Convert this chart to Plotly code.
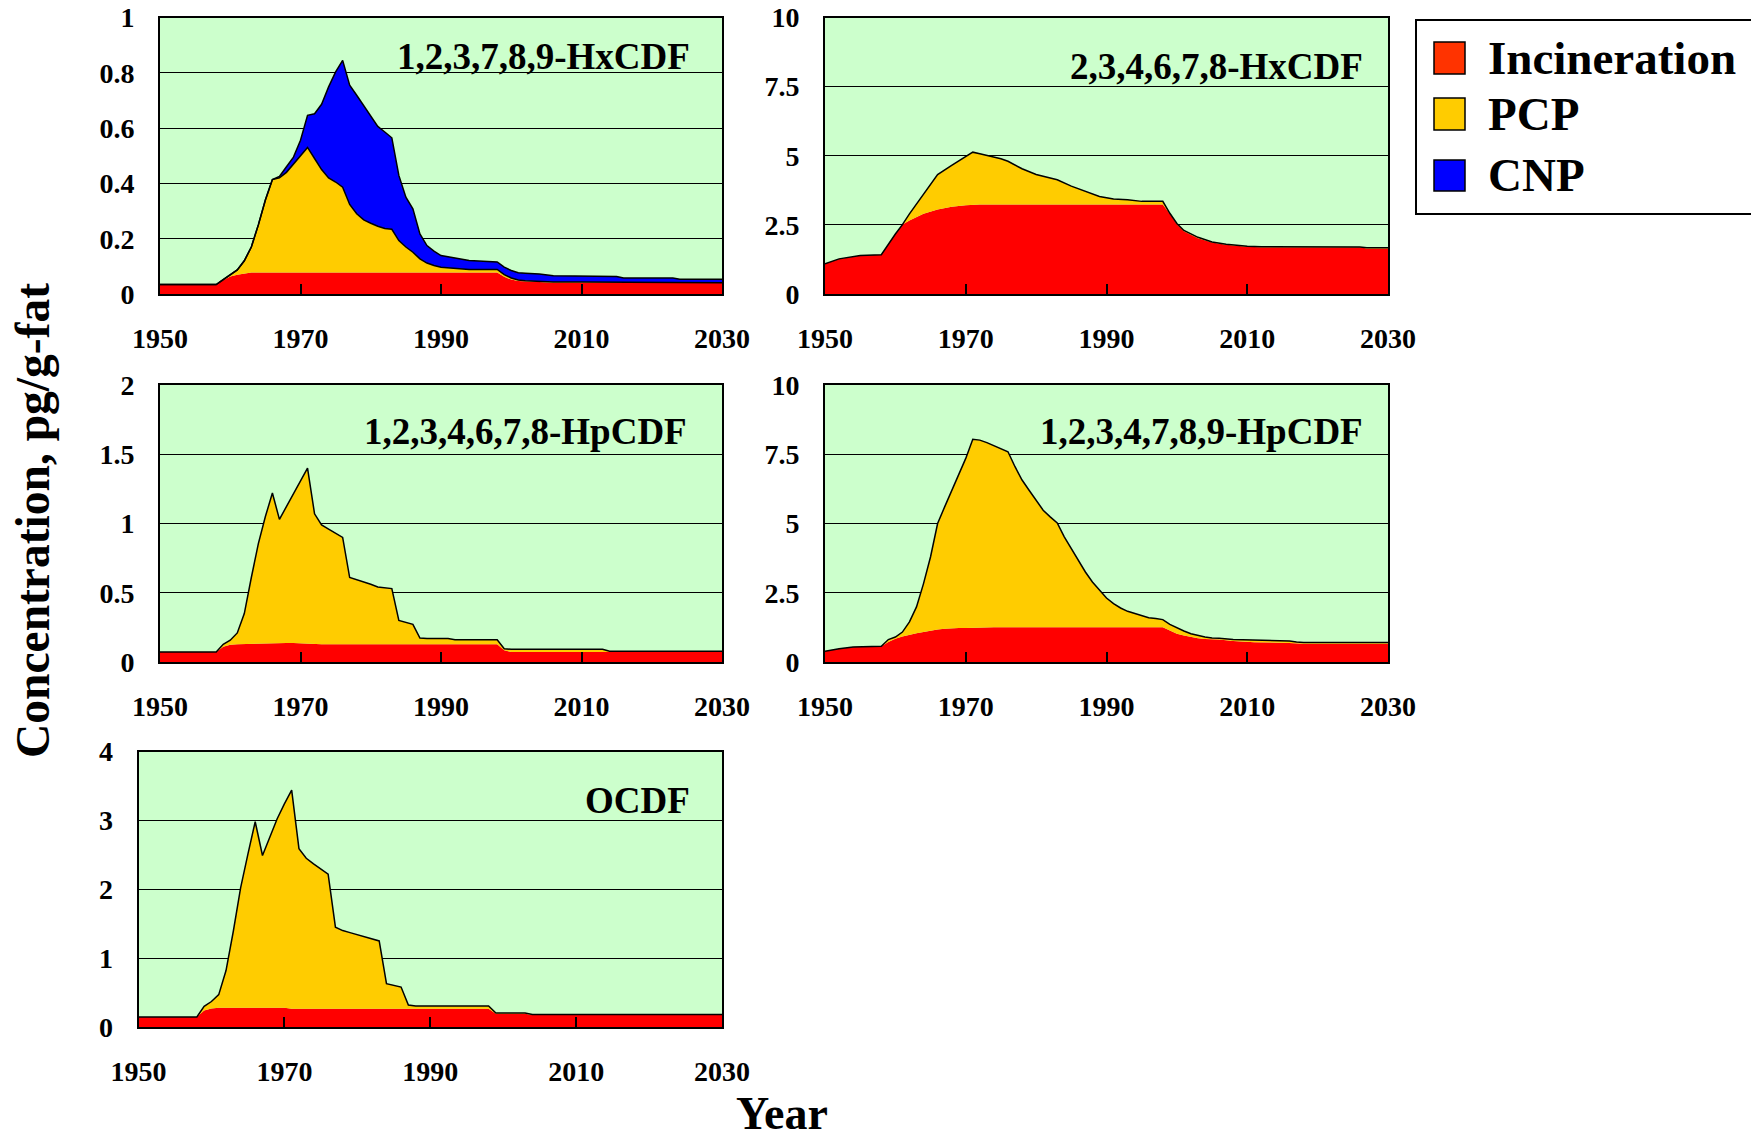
import plotly.graph_objects as go

# ---------------- DATA ----------------
series_names = ["Incineration", "PCP", "CNP"]
panel_titles = ["1,2,3,7,8,9-HxCDF", "2,3,4,6,7,8-HxCDF", "1,2,3,4,6,7,8-HpCDF",
                "1,2,3,4,7,8,9-HpCDF", "OCDF"]
x_tick_vals = [1950, 1970, 1990, 2010, 2030]
x_tick_text = ["1950", "1970", "1990", "2010", "2030"]

# Panel 1: 1,2,3,7,8,9-HxCDF
p1_years = [1950, 1958, 1959, 1960, 1961, 1962, 1963, 1964, 1965, 1966, 1967, 1968, 1969,
            1970, 1971, 1972, 1973, 1974, 1975, 1976, 1977, 1978, 1979, 1980, 1981, 1982,
            1983, 1984, 1985, 1986, 1987, 1988, 1989, 1990, 1992, 1994, 1998, 1999, 2000,
            2001, 2002, 2004, 2006, 2010, 2015, 2016, 2023, 2024, 2030]
p1_incineration = [0.034, 0.034, 0.05, 0.063, 0.07, 0.075, 0.078, 0.078, 0.078, 0.078, 0.078,
                   0.078, 0.078, 0.078, 0.078, 0.078, 0.078, 0.078, 0.078, 0.078, 0.078, 0.078,
                   0.078, 0.078, 0.078, 0.078, 0.078, 0.078, 0.078, 0.078, 0.078, 0.078, 0.078,
                   0.078, 0.078, 0.078, 0.078, 0.062, 0.052, 0.047, 0.045, 0.043, 0.041, 0.041,
                   0.041, 0.041, 0.041, 0.041, 0.041]
p1_pcp = [0, 0, 0.002, 0.007, 0.017, 0.045, 0.092, 0.172, 0.262, 0.336, 0.342, 0.362, 0.392,
          0.422, 0.452, 0.412, 0.372, 0.342, 0.327, 0.308, 0.246, 0.212, 0.19, 0.178, 0.167,
          0.159, 0.156, 0.115, 0.092, 0.073, 0.049, 0.034, 0.025, 0.019, 0.015, 0.011, 0.011,
          0.008, 0.006, 0.004, 0.003, 0.003, 0.002, 0.002, 0.002, 0, 0, 0, 0]
p1_cnp = [0, 0, 0, 0, 0, 0, 0, 0, 0, 0, 0.005, 0.02, 0.025, 0.056, 0.116, 0.162, 0.236, 0.329,
          0.398, 0.459, 0.431, 0.429, 0.414, 0.39, 0.361, 0.349, 0.331, 0.236, 0.18, 0.157,
          0.09, 0.063, 0.052, 0.042, 0.036, 0.032, 0.027, 0.027, 0.027, 0.026, 0.027, 0.026,
          0.023, 0.022, 0.02, 0.017, 0.017, 0.012, 0.012]
p1_y_ticks = [0, 0.2, 0.4, 0.6, 0.8, 1]
p1_y_text = ["0", "0.2", "0.4", "0.6", "0.8", "1"]

# Panel 2: 2,3,4,6,7,8-HxCDF
p2_years = [1950, 1952, 1955, 1958, 1960, 1961, 1962, 1964, 1966, 1968, 1970, 1971, 1972,
            1973, 1975, 1976, 1978, 1980, 1982, 1983, 1985, 1987, 1989, 1991, 1993, 1995,
            1998, 1999, 2000, 2001, 2003, 2005, 2007, 2010, 2012, 2026, 2027, 2030]
p2_incineration = [1.09, 1.27, 1.39, 1.42, 2.17, 2.51, 2.66, 2.9, 3.06, 3.16, 3.21, 3.23, 3.24,
                   3.24, 3.24, 3.24, 3.24, 3.24, 3.24, 3.24, 3.24, 3.24, 3.24, 3.24, 3.24, 3.24,
                   3.24, 2.9, 2.52, 2.27, 2.02, 1.86, 1.78, 1.71, 1.69, 1.69, 1.65, 1.65]
p2_pcp = [0, 0, 0, 0, 0, 0, 0.24, 0.72, 1.26, 1.49, 1.74, 1.9, 1.83, 1.77, 1.65, 1.56, 1.29,
          1.08, 0.96, 0.89, 0.66, 0.48, 0.29, 0.2, 0.17, 0.11, 0.11, 0.02, 0.03, 0.03, 0.03,
          0.02, 0.02, 0.02, 0.02, 0.01, 0.02, 0.02]
p2_y_ticks = [0, 2.5, 5, 7.5, 10]
p2_y_text = ["0", "2.5", "5", "7.5", "10"]

# Panel 3: 1,2,3,4,6,7,8-HpCDF
p3_years = [1950, 1958, 1959, 1960, 1961, 1962, 1963, 1964, 1965, 1966, 1967, 1968, 1969,
            1970, 1971, 1972, 1973, 1974, 1975, 1976, 1977, 1978, 1979, 1980, 1981, 1982,
            1983, 1984, 1985, 1986, 1987, 1988, 1991, 1992, 1998, 1999, 2000, 2013, 2014, 2030]
p3_incineration = [0.072, 0.072, 0.11, 0.125, 0.128, 0.13, 0.13, 0.132, 0.135, 0.137, 0.138,
                   0.138, 0.137, 0.135, 0.128, 0.128, 0.128, 0.128, 0.128, 0.128, 0.128, 0.128,
                   0.128, 0.128, 0.128, 0.128, 0.128, 0.128, 0.128, 0.128, 0.128, 0.128, 0.128,
                   0.128, 0.128, 0.084, 0.072, 0.072, 0.072, 0.072]
p3_pcp = [0, 0, 0.018, 0.032, 0.082, 0.22, 0.48, 0.723, 0.915, 1.083, 0.892, 0.982, 1.083,
          1.175, 1.272, 0.942, 0.862, 0.832, 0.802, 0.772, 0.482, 0.467, 0.45, 0.433, 0.414,
          0.409, 0.402, 0.172, 0.156, 0.144, 0.045, 0.041, 0.041, 0.033, 0.033, 0.012, 0.02,
          0.02, 0.005, 0.005]
p3_y_ticks = [0, 0.5, 1, 1.5, 2]
p3_y_text = ["0", "0.5", "1", "1.5", "2"]

# Panel 4: 1,2,3,4,7,8,9-HpCDF
p4_years = [1950, 1952, 1954, 1958, 1959, 1960, 1961, 1962, 1963, 1964, 1965, 1966, 1967,
            1968, 1969, 1970, 1971, 1972, 1973, 1974, 1975, 1976, 1977, 1978, 1979, 1980,
            1981, 1982, 1983, 1984, 1985, 1986, 1987, 1988, 1989, 1990, 1991, 1992, 1993,
            1994, 1995, 1996, 1997, 1998, 1999, 2000, 2001, 2002, 2003, 2004, 2005, 2006,
            2008, 2010, 2011, 2016, 2017, 2018, 2030]
p4_incineration = [0.39, 0.48, 0.54, 0.57, 0.72, 0.84, 0.92, 0.99, 1.04, 1.08, 1.13, 1.17, 1.2,
                   1.22, 1.225, 1.23, 1.24, 1.25, 1.25, 1.25, 1.25, 1.25, 1.25, 1.25, 1.25,
                   1.25, 1.25, 1.25, 1.25, 1.25, 1.25, 1.25, 1.25, 1.25, 1.25, 1.25, 1.25, 1.25,
                   1.25, 1.25, 1.25, 1.25, 1.25, 1.25, 1.14, 1.02, 0.96, 0.9, 0.86, 0.83, 0.82,
                   0.81, 0.76, 0.72, 0.71, 0.69, 0.68, 0.66, 0.66]
p4_pcp = [0, 0, 0, 0, 0.09, 0.06, 0.16, 0.46, 0.95, 1.75, 2.67, 3.83, 4.4, 4.95, 5.525, 6.12,
          6.8, 6.76, 6.67, 6.55, 6.45, 6.34, 5.8, 5.32, 4.95, 4.59, 4.23, 3.99, 3.77, 3.27,
          2.85, 2.42, 2.0, 1.64, 1.34, 1.06, 0.86, 0.7, 0.58, 0.5, 0.41, 0.35, 0.32, 0.28,
          0.22, 0.21, 0.16, 0.12, 0.1, 0.07, 0.05, 0.05, 0.05, 0.08, 0.06, 0.07, 0.04, 0.04,
          0.04]
p4_y_ticks = [0, 2.5, 5, 7.5, 10]
p4_y_text = ["0", "2.5", "5", "7.5", "10"]

# Panel 5: OCDF
p5_years = [1950, 1958, 1959, 1960, 1961, 1962, 1963, 1964, 1965, 1966, 1967, 1968, 1969,
            1970, 1971, 1972, 1973, 1974, 1975, 1976, 1977, 1978, 1979, 1980, 1981, 1982,
            1983, 1984, 1985, 1986, 1987, 1988, 1998, 1999, 2003, 2004, 2030]
p5_incineration = [0.145, 0.145, 0.24, 0.27, 0.28, 0.28, 0.28, 0.28, 0.28, 0.28, 0.28, 0.28,
                   0.28, 0.28, 0.266, 0.266, 0.266, 0.266, 0.266, 0.266, 0.266, 0.266, 0.266,
                   0.266, 0.266, 0.266, 0.266, 0.266, 0.266, 0.266, 0.266, 0.266, 0.266, 0.194,
                   0.194, 0.174, 0.174]
p5_pcp = [0, 0, 0.06, 0.1, 0.19, 0.54, 1.11, 1.74, 2.23, 2.7, 2.21, 2.47, 2.74, 2.96, 3.174,
          2.324, 2.184, 2.104, 2.024, 1.954, 1.184, 1.134, 1.104, 1.074, 1.034, 1.004, 0.984,
          0.364, 0.334, 0.314, 0.054, 0.039, 0.039, 0.009, 0.009, 0.006, 0.006]
p5_y_ticks = [0, 1, 2, 3, 4]
p5_y_text = ["0", "1", "2", "3", "4"]

# ---------------- STYLE / LAYOUT ----------------
W, H = 1751, 1141
FONT = "Liberation Serif"
C_INC, C_PCP, C_CNP = "#FF0000", "#FFCC00", "#0000FF"
LEG_COLORS = ["#FF3300", "#FFCC00", "#0000FF"]


def fx(px):
    return px / W


def fy(py):
    return 1 - py / H


# panel boxes in page pixels: (left, right, top, bottom)
boxes = [(160, 722, 17.5, 294), (825, 1388, 17.5, 294),
         (160, 722, 385, 662), (825, 1388, 385, 662),
         (138.5, 722, 751.5, 1027)]

panels = [
    (p1_years, [p1_incineration, p1_pcp, p1_cnp], p1_y_ticks, p1_y_text),
    (p2_years, [p2_incineration, p2_pcp], p2_y_ticks, p2_y_text),
    (p3_years, [p3_incineration, p3_pcp], p3_y_ticks, p3_y_text),
    (p4_years, [p4_incineration, p4_pcp], p4_y_ticks, p4_y_text),
    (p5_years, [p5_incineration, p5_pcp], p5_y_ticks, p5_y_text),
]

fig = go.Figure()
layout = dict(width=W, height=H, margin=dict(l=0, r=0, t=0, b=0, pad=0, autoexpand=False),
              paper_bgcolor="white", plot_bgcolor="#CCFFCC", showlegend=False)

tickfont = dict(family=FONT, size=28, color="black", weight="bold")
colors = [C_INC, C_PCP, C_CNP]

for i, (years, comps, yt, ytt) in enumerate(panels):
    n = i + 1
    xa = "x" if n == 1 else f"x{n}"
    ya = "y" if n == 1 else f"y{n}"
    for j, vals in enumerate(comps):
        line = dict(width=0) if j == 0 else dict(color="black", width=1.5)
        fig.add_trace(go.Scatter(
            x=years, y=vals, name=series_names[j], mode="lines",
            stackgroup=f"s{n}", fillcolor=colors[j], line=line,
            xaxis=xa, yaxis=ya, hoverinfo="x+y+name"))
    l, r, t, b = boxes[i]
    layout["xaxis" if n == 1 else f"xaxis{n}"] = dict(
        domain=[fx(l), fx(r)], anchor=ya, range=[1950, 2030], automargin=False,
        tickvals=x_tick_vals, ticktext=x_tick_text, ticks="inside", ticklen=10,
        tickwidth=2, tickcolor="black", showline=True, mirror=True, linecolor="black",
        linewidth=2, showgrid=False, zeroline=False, tickfont=tickfont,
        ticklabelstandoff=18, ticklabeloverflow="allow")
    layout["yaxis" if n == 1 else f"yaxis{n}"] = dict(
        domain=[fy(b), fy(t)], anchor=xa, range=[0, yt[-1]], automargin=False,
        tickvals=yt, ticktext=ytt, ticks="outside", ticklen=18,
        tickcolor="rgba(0,0,0,0)", showline=True, mirror=True,
        linecolor="black", linewidth=2, showgrid=True, gridcolor="black", gridwidth=1,
        zeroline=False, tickfont=tickfont, ticklabeloverflow="allow")

annotations = []
title_pos = [(692, 56), (1365, 67), (689, 432), (1365, 432), (692, 800)]
for txt, (ax, ay) in zip(panel_titles, title_pos):
    annotations.append(dict(text=txt, x=fx(ax), y=fy(ay), xref="paper", yref="paper",
                            xanchor="right", yanchor="middle", showarrow=False,
                            font=dict(family=FONT, size=37, color="black", weight="bold")))

annotations.append(dict(text="Concentration, pg/g-fat", x=fx(33), y=fy(521), xref="paper",
                        yref="paper", xanchor="center", yanchor="middle", textangle=-90,
                        showarrow=False,
                        font=dict(family=FONT, size=47.5, color="black", weight="bold")))
annotations.append(dict(text="Year", x=fx(782), y=0, xref="paper", yref="paper",
                        xanchor="center", yanchor="bottom", showarrow=False,
                        font=dict(family=FONT, size=46, color="black", weight="bold")))

# legend (drawn manually)
shapes = [dict(type="rect", xref="paper", yref="paper", x0=fx(1416), x1=fx(1770),
               y0=fy(214), y1=fy(20), line=dict(color="black", width=2),
               fillcolor="white", layer="above")]
leg_y = [(42, 74), (98, 130), (160, 191)]
for name, col, (y0, y1) in zip(series_names, LEG_COLORS, leg_y):
    shapes.append(dict(type="rect", xref="paper", yref="paper", x0=fx(1434), x1=fx(1465),
                       y0=fy(y1), y1=fy(y0), line=dict(color="black", width=1.5),
                       fillcolor=col, layer="above"))
    annotations.append(dict(text=name, x=fx(1486), y=fy((y0 + y1) / 2), xref="paper",
                            yref="paper", xanchor="left", yanchor="middle", showarrow=False,
                            font=dict(family=FONT, size=47, color="black", weight="bold")))

layout["annotations"] = annotations
layout["shapes"] = shapes
fig.update_layout(**layout)
fig.write_html("out.html",
               config={"displayModeBar": False},
               post_script="document.body.style.margin='0px';"
                           "document.body.style.overflow='hidden';")
